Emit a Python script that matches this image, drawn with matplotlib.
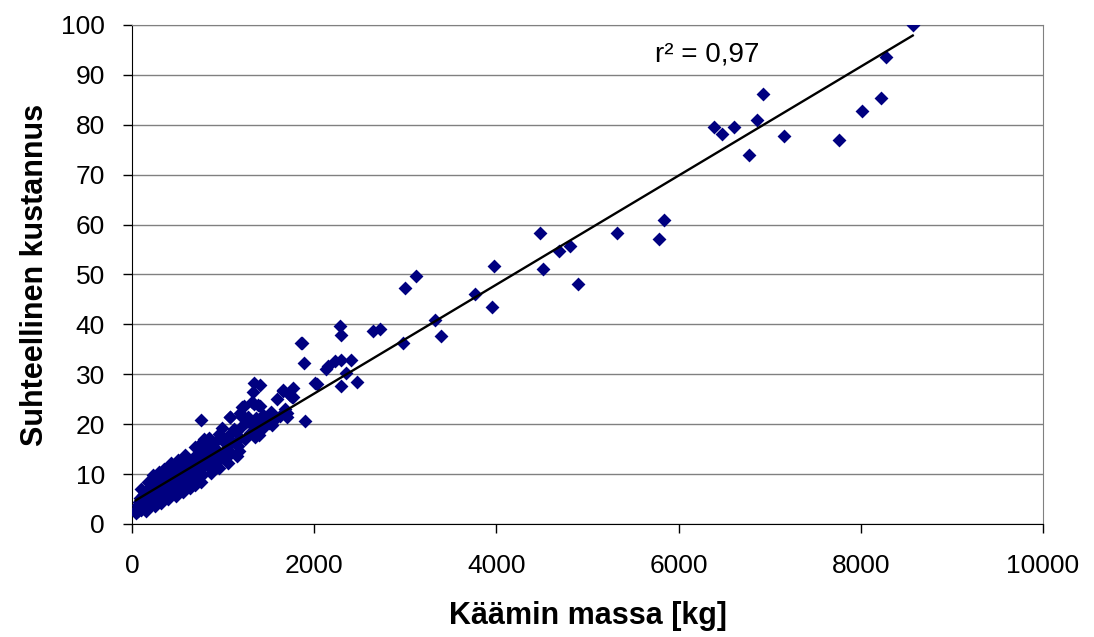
import numpy as np
import matplotlib
matplotlib.use("Agg")
import matplotlib.pyplot as plt

plt.rcParams["font.family"] = ["Liberation Sans", "DejaVu Sans"]

# käämin massa [kg] vs suhteellinen kustannus (luettu kuvasta)
mass = [
    40, 50, 60, 70, 75, 80, 90, 95, 100, 110, 115, 120, 130, 140, 145, 150, 160, 165, 170, 180, 190, 195, 200, 210,
    215, 220, 230, 240, 250, 255, 260, 270, 280, 290, 300, 305, 310, 320, 330, 340, 350, 360, 370, 380, 390, 400,
    410, 420, 430, 440, 455, 470, 480, 495, 510, 525, 540, 555, 570, 585, 600, 615, 630, 645, 660, 675, 690, 700,
    715, 730, 745, 760, 770, 785, 790, 805, 820, 835, 850, 865, 880, 895, 910, 932, 945, 960, 975, 991,
    1005, 1020, 1040, 1060, 1072, 1076, 1085, 1100, 1120, 1141, 1160, 1171, 1185, 1186, 1197, 1210, 1211, 1226,
    1240, 1255, 1270, 1290, 1310, 1314, 1331, 1336, 1340, 1350, 1360, 1375, 1387, 1395,
    1402, 1410, 1430, 1442, 1450, 1470, 1483, 1500, 1520, 1538, 1560, 1588, 1620, 1656, 1661, 1681, 1698, 1705,
    1730, 1735, 1758, 1771, 1771, 1850, 1869, 1887, 1898,
    2009, 2034, 2126, 2155, 2232, 2291, 2291, 2280, 2291, 2353, 2401, 2474, 2643, 2717, 2970, 2996, 3113,
    3330, 3392, 3763, 3946, 3970,
    4475, 4512, 4692, 4809, 4890, 5319, 5782, 5837,
    6388, 6479, 6604, 6769, 6857, 6927, 7155, 7761, 8018, 8223, 8275, 8570,
    # band edges of the dense cluster
    150, 250, 320, 400, 480, 560, 640, 688, 760, 867, 950, 1050, 1150,
    100, 180, 230, 300, 350, 428, 500, 580, 690, 750, 850, 950,
    350, 450, 520, 610, 720, 820,
]
cost = [
    2.2, 3.0, 3.8, 2.6, 4.5, 3.4, 5.2, 2.9, 4.0, 3.3, 5.8, 4.6, 3.7, 6.2, 5.0, 4.2, 3.6, 6.8, 5.4, 4.5, 7.3, 5.9, 4.8, 3.9,
    8.0, 6.3, 5.2, 7.0, 8.6, 4.6, 6.0, 7.6, 5.5, 9.0, 6.6, 8.1, 5.1, 7.2, 9.5, 6.2, 8.0, 10.0, 7.0, 5.9, 8.7, 10.5,
    7.6, 6.5, 9.3, 11.0, 8.2, 7.1, 10.0, 11.6, 8.7, 7.6, 10.6, 12.2, 9.3, 8.3, 11.4, 12.9, 10.0, 8.9, 12.0, 13.5, 10.6, 9.4,
    12.7, 14.2, 11.2, 20.8, 9.9, 17.0, 13.3, 11.8, 15.0, 12.6, 14.0, 11.0, 16.0, 13.4, 12.0, 16.8, 14.6, 12.8, 17.5, 19.3,
    14.0, 16.2, 15.0, 17.9, 21.4, 21.4, 14.2, 16.5, 19.0, 18.5, 15.6, 14.6, 17.3, 22.3, 21.7, 19.6, 23.5, 23.6,
    17.0, 20.5, 21.4, 18.3, 20.0, 24.4, 26.5, 28.2, 24.0, 17.5, 21.2, 19.0, 23.8, 17.8,
    27.9, 23.6, 20.6, 21.8, 19.5, 21.0, 21.5, 20.3, 22.4, 19.8, 20.9, 25.0, 21.6, 26.7, 26.9, 23.0, 21.5, 22.2,
    25.8, 25.9, 25.5, 27.2, 25.4, 36.3, 36.3, 32.3, 20.7,
    28.2, 28.1, 31.0, 31.7, 32.6, 32.9, 27.7, 39.6, 37.9, 30.2, 32.8, 28.4, 38.6, 39.1, 36.3, 47.3, 49.7,
    40.8, 37.7, 46.0, 43.5, 51.7,
    58.3, 51.1, 54.7, 55.7, 48.0, 58.3, 57.1, 60.9,
    79.6, 78.1, 79.6, 73.9, 81.0, 86.1, 77.7, 77.0, 82.8, 85.4, 93.5, 100.0,
    2.6, 3.6, 4.2, 5.0, 5.7, 6.5, 7.3, 7.8, 8.5, 10.2, 11.2, 12.3, 13.6,
    7.0, 8.4, 9.8, 10.4, 11.0, 12.2, 12.8, 13.8, 15.4, 16.0, 17.3, 18.0,
    7.5, 9.0, 10.0, 9.8, 11.5, 13.0,
]
# lineaarinen trendiviiva (luettu kuvasta)
trend_slope = 0.01092
trend_intercept = 4.3
r2_text = "r² = 0,97"

fig = plt.figure(figsize=(10.94, 6.37), dpi=100)
ax = fig.add_axes([0.1207, 0.1774, 0.8327, 0.7834])

ax.scatter(mass, cost, marker="D", s=50, color="#000080", linewidths=0, zorder=3)
tx = np.array([min(mass), max(mass)])
ax.plot(tx, trend_intercept + trend_slope * tx, color="black", lw=1.7, zorder=4)

ax.set_xlim(0, 10000)
ax.set_ylim(0, 100)
ax.set_xticks(np.arange(0, 10001, 2000))
ax.set_yticks(np.arange(0, 101, 10))
ax.yaxis.grid(True, color="#808080", lw=1.0)
ax.set_axisbelow(True)
for s in ("top", "right"):
    ax.spines[s].set_color("#808080")
for s in ("left", "bottom"):
    ax.spines[s].set_color("black")
ax.tick_params(labelsize=19, length=6.5, width=1, direction="out")
ax.tick_params(axis="y", pad=13)
ax.tick_params(axis="x", pad=15)

ax.set_xlabel("Käämin massa [kg]", fontsize=22, fontweight="bold", labelpad=17)
ax.set_ylabel("Suhteellinen kustannus", fontsize=22, fontweight="bold", labelpad=8)
ax.text(5740, 94, r2_text, fontsize=20, ha="left", va="center")

fig.savefig("out.png", dpi=100)
